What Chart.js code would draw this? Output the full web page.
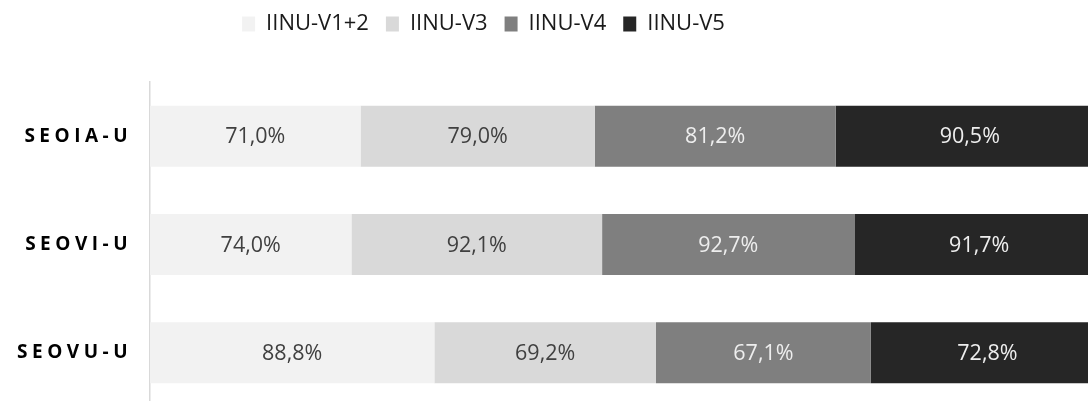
<!DOCTYPE html>
<html><head><meta charset="utf-8">
<script src="https://cdn.jsdelivr.net/npm/chart.js@4/dist/chart.umd.min.js"></script>
<style>html,body{margin:0;padding:0;overflow:hidden;background:#fff;width:1088px;height:401px}canvas{display:block}</style>
</head><body>
<canvas id="c" width="1104" height="407"></canvas>
<script>
const categories = ['SEOIA-U', 'SEOVI-U', 'SEOVU-U'];
const seriesNames = ['IINU-V1+2', 'IINU-V3', 'IINU-V4', 'IINU-V5'];
const v12 = [71.0, 74.0, 88.8];
const v3 = [79.0, 92.1, 69.2];
const v4 = [81.2, 92.7, 67.1];
const v5 = [90.5, 91.7, 72.8];
const seriesColors = ['#f2f2f2', '#d9d9d9', '#7f7f7f', '#262626'];
const labelColors = ['#404040', '#404040', '#eeeeee', '#eeeeee'];

const raw = [v12, v3, v4, v5];
const totals = categories.map((_, i) => raw.reduce((s, a) => s + a[i], 0));
const fmt = v => v.toFixed(1).replace('.', ',') + '%';

const datasets = raw.map((arr, k) => ({
  label: seriesNames[k],
  data: arr.map((v, i) => v / totals[i] * 100),
  rawValues: arr,
  backgroundColor: seriesColors[k],
  borderWidth: 0,
  barPercentage: 0.563,
  categoryPercentage: 1
}));

const tweak = {
  id: 'tweak',
  beforeLayout(chart) {
    const lg = chart.legend;
    if (lg && !lg._patched) {
      const orig = lg.fit;
      lg.fit = function () { orig.call(this); this.height = 82; };
      lg._patched = true;
    }
  },
  beforeDraw(chart) {
    const lg = chart.legend;
    if (lg) { lg.left = 0; lg.right = 967; lg.top = -4; lg.bottom = 78; }
  },
  afterDatasetsDraw(chart) {
    const ctx = chart.ctx;
    ctx.save();
    ctx.font = '21.5px "Open Sans"';
    ctx.textAlign = 'center';
    ctx.textBaseline = 'middle';
    chart.data.datasets.forEach((ds, k) => {
      const meta = chart.getDatasetMeta(k);
      meta.data.forEach((bar, i) => {
        ctx.fillStyle = labelColors[k];
        ctx.fillText(fmt(ds.rawValues[i]), (bar.x + bar.base) / 2, bar.y + 1);
      });
    });
    ctx.restore();
    ctx.letterSpacing = '4.5px';
  },
  afterDraw(chart) { chart.ctx.letterSpacing = '0px'; }
};

new Chart(document.getElementById('c'), {
  type: 'bar',
  data: { labels: categories, datasets },
  options: {
    indexAxis: 'y',
    responsive: false,
    animation: false,
    events: [],
    devicePixelRatio: 1,
    layout: { padding: 0 },
    scales: {
      x: { stacked: true, min: 0, max: 100, display: false },
      y: {
        stacked: true,
        afterFit(scale) { scale.width = 150; scale.paddingTop = 0; scale.paddingBottom = 0; },
        grid: { display: false, drawTicks: false },
        border: { display: true, color: '#d9d9d9', width: 1.5 },
        ticks: { z: 1, padding: 18, color: '#000', font: { family: 'Open Sans', size: 19, weight: 'bold' } }
      }
    },
    plugins: {
      tooltip: { enabled: false },
      legend: {
        position: 'top',
        align: 'center',
        labels: {
          font: { family: 'Open Sans', size: 22 },
          color: '#1a1a1a',
          boxWidth: 13,
          boxHeight: 15,
          padding: 17
        }
      }
    }
  },
  plugins: [tweak]
});
</script>
</body></html>
